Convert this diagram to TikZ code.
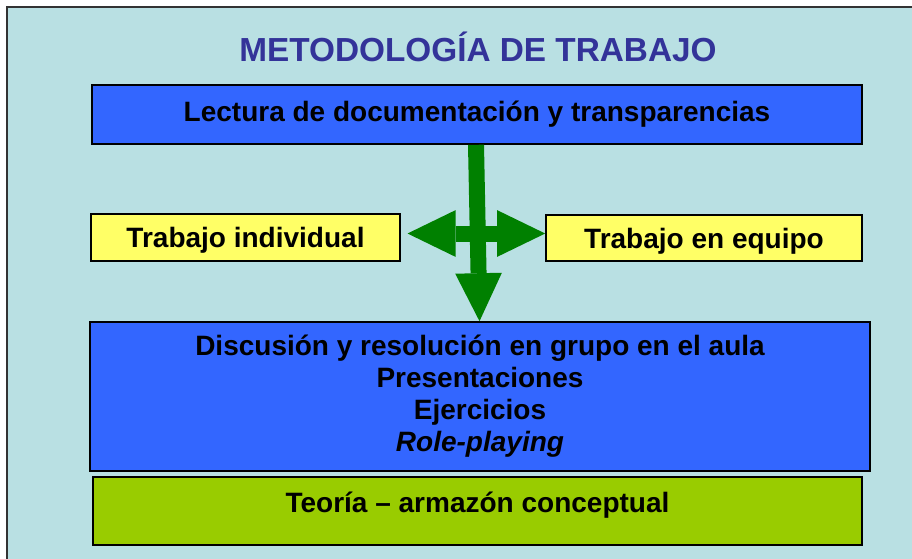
\documentclass[tikz,border=0pt]{standalone}
\usepackage{fontspec}
\setmainfont{Liberation Sans}
\usetikzlibrary{positioning}
\usetikzlibrary{arrows.meta}
\usetikzlibrary{calc}

\definecolor{panel}{RGB}{185,224,227}
\definecolor{boxblue}{RGB}{51,102,255}
\definecolor{boxyellow}{RGB}{255,255,102}
\definecolor{boxgreen}{RGB}{153,204,0}
\definecolor{arrowgreen}{RGB}{0,128,0}
\definecolor{titleblue}{RGB}{51,51,153}

\begin{document}
\begin{tikzpicture}[
    x=0.75pt, y=-0.75pt,
    box/.style={draw, line width=1.2pt, inner sep=0pt, align=center,
        font=\fontsize{21}{24}\selectfont\bfseries},
    blue/.style={box, fill=boxblue},
    yellow/.style={box, fill=boxyellow, text depth=0pt},
    green/.style={box, fill=boxgreen},
    bigtip/.tip={Triangle[length=36pt, width=35pt, line width=0pt]},
    bigarrow/.style={draw=arrowgreen, line width=12pt, -bigtip}
]
    \useasboundingbox (0,0) rectangle (912,558);
    % Background panel
    \draw[fill=panel, draw=black!80, line width=1.2pt] (7,7) rectangle (930,580);

    % Title
    \node[anchor=base, text=titleblue, font=\fontsize{25}{30}\selectfont\bfseries]
        (title) at (478,61) {METODOLOGÍA DE TRABAJO};

    % Boxes
    \node[blue, minimum width=577.5pt, minimum height=44.25pt] (lectura) at (477,114.5)
        {Lectura de documentación y transparencias};
    \node[yellow, minimum width=231.75pt, minimum height=35.25pt] (indiv) at (245.5,237.5)
        {Trabajo individual};
    \node[yellow, minimum width=237pt, minimum height=34.5pt] (equipo) at (704,238)
        {Trabajo en equipo};
    \node[blue, minimum width=585pt, minimum height=111.75pt] (discusion) at (480,396.5)
        {Discusión y resolución en grupo en el aula\\
        Presentaciones\\
        Ejercicios\\
        \textit{Role-playing}};
    \node[green, minimum width=576.75pt, minimum height=51pt, text height=16pt, text depth=14pt]
        (teoria) at (477.5,511) {Teoría -- armazón conceptual};

    % Arrows
    \draw[bigarrow] ($(lectura.south)+(-1,0)$) -- ($(discusion.north)+(-0.5,0)$);
    \draw[bigarrow, bigtip-bigtip] ($(indiv.east)+(6.7,-4)$) -- ($(equipo.west)+(0,-4.5)$);
\end{tikzpicture}
\end{document}
